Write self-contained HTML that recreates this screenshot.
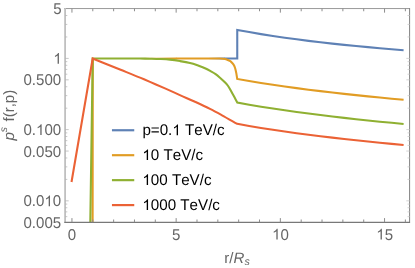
<!DOCTYPE html>
<html><head><meta charset="utf-8"><title>plot</title>
<style>
html,body{margin:0;padding:0;background:#fff;}
body{width:415px;height:268px;overflow:hidden;position:relative;font-family:"Liberation Sans",sans-serif;}
</style></head><body>
<svg width="415" height="268" viewBox="0 0 415 268" style="position:absolute;left:0;top:0;text-rendering:geometricPrecision">
<defs><clipPath id="c"><rect x="65.10" y="8.55" width="344.60" height="213.65"/></clipPath></defs>
<g clip-path="url(#c)" fill="none" stroke-width="2.08" stroke-linejoin="miter" stroke-linecap="butt" style="filter:blur(0.45px)">
<path d="M208 58.10 L224.3 57.51 V59.59 L208 59.00 Z" fill="#5e81b5" stroke="none"/>
<path d="M224.00 58.55 L237.25 58.55 L237.25 29.90 L249.13 32.10 L261.01 34.13 L272.90 36.00 L284.78 37.73 L296.66 39.34 L308.54 40.85 L320.43 42.27 L332.31 43.60 L344.19 44.85 L356.07 46.04 L367.95 47.16 L379.84 48.22 L391.72 49.24 L403.60 50.20" stroke="#5e81b5"/>
<path d="M138 58.05 L176.3 57.51 V59.59 L138 59.05 Z" fill="#e19c24" stroke="none"/>
<path d="M92.60 230.00 L92.80 59.55 M176.00 58.55 L215.00 58.55 C216.33 58.55 217.67 58.52 219.00 58.55 C220.33 58.58 221.67 58.58 223.00 58.75 C224.23 58.91 225.47 59.09 226.70 59.50 C227.97 59.93 229.23 60.27 230.50 61.30 C231.33 61.98 232.17 62.64 233.00 63.90 C233.67 64.91 234.33 65.51 235.00 67.70 C235.42 69.07 235.83 70.66 236.25 72.90 C236.57 74.61 236.88 76.90 237.20 78.90 L237.20 78.90 L249.09 80.98 L260.97 82.93 L272.86 84.76 L284.74 86.48 L296.63 88.11 L308.51 89.66 L320.40 91.13 L332.29 92.53 L344.17 93.87 L356.06 95.15 L367.94 96.38 L379.83 97.57 L391.71 98.70 L403.60 99.80" stroke="#e19c24"/>
<path d="M90.20 230.00 L92.70 58.55 L140.00 58.55 C143.33 58.60 146.67 58.62 150.00 58.70 C153.33 58.78 156.67 58.84 160.00 59.00 C163.33 59.16 166.67 59.30 170.00 59.65 C173.33 60.00 176.67 60.52 180.00 61.10 C183.33 61.68 186.67 62.26 190.00 63.10 C192.00 63.60 194.00 64.15 196.00 64.80 C197.33 65.23 198.67 65.69 200.00 66.20 C201.67 66.84 203.33 67.52 205.00 68.30 C206.87 69.17 208.73 70.15 210.60 71.20 C212.27 72.14 213.93 73.01 215.60 74.20 C217.07 75.25 218.53 76.53 220.00 77.80 C221.53 79.13 223.07 80.40 224.60 82.00 C225.77 83.22 226.93 84.32 228.10 86.00 C228.80 87.01 229.50 88.18 230.20 89.40 C230.83 90.50 231.47 91.73 232.10 92.90 C232.77 94.13 233.43 95.37 234.10 96.60 C234.75 97.80 235.40 98.97 236.05 100.20 C236.47 100.99 236.88 101.80 237.30 102.60 L237.30 102.60 L249.18 104.72 L261.06 106.71 L272.94 108.58 L284.81 110.34 L296.69 112.01 L308.57 113.59 L320.45 115.09 L332.33 116.52 L344.21 117.89 L356.09 119.20 L367.96 120.46 L379.84 121.67 L391.72 122.83 L403.60 123.95" stroke="#8fb032"/>
<path d="M71.52 182.05 L92.70 58.55 C101.80 62.20 110.90 65.81 120.00 69.50 C128.00 72.74 136.00 75.87 144.00 79.30 C146.00 80.16 148.00 81.03 150.00 81.90 C155.00 84.07 160.00 86.19 165.00 88.40 C170.33 90.75 175.67 93.22 181.00 95.60 C185.67 97.68 190.33 99.66 195.00 101.80 C200.00 104.09 205.00 106.37 210.00 108.90 C214.00 110.93 218.00 113.12 222.00 115.30 C227.08 118.07 232.17 121.00 237.25 123.85 L237.25 123.85 L249.13 125.95 L261.01 127.92 L272.90 129.77 L284.78 131.51 L296.66 133.16 L308.54 134.72 L320.43 136.20 L332.31 137.62 L344.19 138.98 L356.07 140.27 L367.95 141.52 L379.84 142.71 L391.72 143.86 L403.60 144.97" stroke="#eb6235"/>
</g>
<g fill="none">
<path d="M64.10 8.55 H409.90" stroke="#9a9a9a" stroke-width="1.0"/>
<path d="M409.60 8.05 V222.20" stroke="#828282" stroke-width="1.0"/>
<path d="M65.10 8.05 V222.80" stroke="#c0c0c0" stroke-width="1.8"/>
<path d="M64.30 222.35 H410.10" stroke="#787878" stroke-width="1.05"/>
</g>
<path d="M71.95 222.20 v-4.10 M71.95 8.55 v4.10 M92.79 222.20 v-2.70 M92.79 8.55 v2.70 M113.63 222.20 v-2.70 M113.63 8.55 v2.70 M134.47 222.20 v-2.70 M134.47 8.55 v2.70 M155.31 222.20 v-2.70 M155.31 8.55 v2.70 M176.15 222.20 v-4.10 M176.15 8.55 v4.10 M196.99 222.20 v-2.70 M196.99 8.55 v2.70 M217.83 222.20 v-2.70 M217.83 8.55 v2.70 M238.67 222.20 v-2.70 M238.67 8.55 v2.70 M259.51 222.20 v-2.70 M259.51 8.55 v2.70 M280.35 222.20 v-4.10 M280.35 8.55 v4.10 M301.19 222.20 v-2.70 M301.19 8.55 v2.70 M322.03 222.20 v-2.70 M322.03 8.55 v2.70 M342.87 222.20 v-2.70 M342.87 8.55 v2.70 M363.71 222.20 v-2.70 M363.71 8.55 v2.70 M384.55 222.20 v-4.10 M384.55 8.55 v4.10 M405.39 222.20 v-2.70 M405.39 8.55 v2.70" stroke="#8c8c8c" stroke-width="1" fill="none"/>
<path d="M65.10 58.40 h3.6 M65.10 79.84 h3.6 M65.10 129.62 h3.6 M65.10 151.06 h3.6 M65.10 200.84 h3.6 M65.10 15.52 h2.2 M65.10 24.42 h2.2 M65.10 36.96 h2.2 M65.10 61.66 h2.2 M65.10 65.30 h2.2 M65.10 69.43 h2.2 M65.10 74.20 h2.2 M65.10 86.74 h2.2 M65.10 95.64 h2.2 M65.10 108.18 h2.2 M65.10 132.88 h2.2 M65.10 136.52 h2.2 M65.10 140.65 h2.2 M65.10 145.42 h2.2 M65.10 157.96 h2.2 M65.10 166.86 h2.2 M65.10 179.40 h2.2 M65.10 204.10 h2.2 M65.10 207.74 h2.2 M65.10 211.87 h2.2 M65.10 216.64 h2.2" stroke="#b4b4b4" stroke-width="0.75" fill="none"/>
<path d="M409.70 58.40 h-3.4 M409.70 79.84 h-3.4 M409.70 129.62 h-3.4 M409.70 151.06 h-3.4 M409.70 200.84 h-3.4 M409.70 15.52 h-2.2 M409.70 24.42 h-2.2 M409.70 36.96 h-2.2 M409.70 61.66 h-2.2 M409.70 65.30 h-2.2 M409.70 69.43 h-2.2 M409.70 74.20 h-2.2 M409.70 86.74 h-2.2 M409.70 95.64 h-2.2 M409.70 108.18 h-2.2 M409.70 132.88 h-2.2 M409.70 136.52 h-2.2 M409.70 140.65 h-2.2 M409.70 145.42 h-2.2 M409.70 157.96 h-2.2 M409.70 166.86 h-2.2 M409.70 179.40 h-2.2 M409.70 204.10 h-2.2 M409.70 207.74 h-2.2 M409.70 211.87 h-2.2 M409.70 216.64 h-2.2" stroke="#c9c9c9" stroke-width="0.8" fill="none"/>
<g style="filter:blur(0.45px)">
<path d="M111.95 130.25 H134.25" stroke="#5e81b5" stroke-width="2.18" fill="none"/>
<path d="M111.95 155.20 H134.25" stroke="#e19c24" stroke-width="2.18" fill="none"/>
<path d="M111.95 180.15 H134.25" stroke="#8fb032" stroke-width="2.18" fill="none"/>
<path d="M111.95 205.10 H134.25" stroke="#eb6235" stroke-width="2.18" fill="none"/>
</g>
</svg>
<svg width="415" height="268" viewBox="0 0 415 268" style="position:absolute;left:0;top:0;text-rendering:geometricPrecision;font-kerning:none;filter:grayscale(1);will-change:transform">
<g font-family="Liberation Sans, sans-serif" font-size="15.06" fill="#666666">
<text transform="translate(53.32 14.07) scale(1 1.040)" font-size="15.06" xml:space="preserve">5</text>
<path transform="translate(53.32 63.85) scale(0.00735 -0.00765)" d="M763 0H583V1098Q518 1039 412 979Q307 920 223 890V1057Q374 1125 487 1221Q600 1318 647 1409H763Z"/>
<text transform="translate(23.46 85.29) scale(1 1.040)" font-size="15.06" xml:space="preserve">0.500</text>
<text transform="translate(23.46 135.07) scale(1 1.040)" font-size="15.06" xml:space="preserve">0.</text>
<path transform="translate(36.02 135.07) scale(0.00735 -0.00765)" d="M763 0H583V1098Q518 1039 412 979Q307 920 223 890V1057Q374 1125 487 1221Q600 1318 647 1409H763Z"/>
<text transform="translate(44.40 135.07) scale(1 1.040)" font-size="15.06" xml:space="preserve">00</text>
<text transform="translate(23.46 156.51) scale(1 1.040)" font-size="15.06" xml:space="preserve">0.050</text>
<text transform="translate(23.46 206.29) scale(1 1.040)" font-size="15.06" xml:space="preserve">0.0</text>
<path transform="translate(44.40 206.29) scale(0.00735 -0.00765)" d="M763 0H583V1098Q518 1039 412 979Q307 920 223 890V1057Q374 1125 487 1221Q600 1318 647 1409H763Z"/>
<text transform="translate(52.77 206.29) scale(1 1.040)" font-size="15.06" xml:space="preserve">0</text>
<text transform="translate(23.46 227.73) scale(1 1.040)" font-size="15.06" xml:space="preserve">0.005</text>
<text transform="translate(67.86 239.60) scale(1 1.040)" font-size="15.06" xml:space="preserve">0</text>
<text transform="translate(172.06 239.60) scale(1 1.040)" font-size="15.06" xml:space="preserve">5</text>
<path transform="translate(272.07 239.60) scale(0.00735 -0.00765)" d="M763 0H583V1098Q518 1039 412 979Q307 920 223 890V1057Q374 1125 487 1221Q600 1318 647 1409H763Z"/>
<text transform="translate(280.45 239.60) scale(1 1.040)" font-size="15.06" xml:space="preserve">0</text>
<path transform="translate(376.27 239.60) scale(0.00735 -0.00765)" d="M763 0H583V1098Q518 1039 412 979Q307 920 223 890V1057Q374 1125 487 1221Q600 1318 647 1409H763Z"/>
<text transform="translate(384.65 239.60) scale(1 1.040)" font-size="15.06" xml:space="preserve">5</text>
<text x="224.2" y="262.9">r/<tspan font-style="italic">R</tspan><tspan font-style="italic" font-size="10.7" dy="2.4" dx="0.25">s</tspan></text>
<text transform="translate(13.95 140.4) rotate(-90)"><tspan font-style="italic">p</tspan><tspan font-style="italic" font-size="10.4" dy="-6.7" dx="-0.3">s</tspan><tspan dy="6.7" dx="1.4"> f(r,p)</tspan></text>
</g>
<g font-family="Liberation Sans, sans-serif" font-size="15.17" fill="#000">
<text transform="translate(142.40 135.15) scale(1 1.025)" font-size="15.17" xml:space="preserve">p=0.</text>
<path transform="translate(172.35 135.15) scale(0.00741 -0.00759)" d="M763 0H583V1098Q518 1039 412 979Q307 920 223 890V1057Q374 1125 487 1221Q600 1318 647 1409H763Z"/>
<text transform="translate(180.78 135.15) scale(1 1.025)" font-size="15.17" xml:space="preserve"> TeV/c</text>
<path transform="translate(142.40 160.10) scale(0.00741 -0.00759)" d="M763 0H583V1098Q518 1039 412 979Q307 920 223 890V1057Q374 1125 487 1221Q600 1318 647 1409H763Z"/>
<text transform="translate(150.84 160.10) scale(1 1.025)" font-size="15.17" xml:space="preserve">0 TeV/c</text>
<path transform="translate(142.40 185.05) scale(0.00741 -0.00759)" d="M763 0H583V1098Q518 1039 412 979Q307 920 223 890V1057Q374 1125 487 1221Q600 1318 647 1409H763Z"/>
<text transform="translate(150.84 185.05) scale(1 1.025)" font-size="15.17" xml:space="preserve">00 TeV/c</text>
<path transform="translate(142.40 210.00) scale(0.00741 -0.00759)" d="M763 0H583V1098Q518 1039 412 979Q307 920 223 890V1057Q374 1125 487 1221Q600 1318 647 1409H763Z"/>
<text transform="translate(150.84 210.00) scale(1 1.025)" font-size="15.17" xml:space="preserve">000 TeV/c</text>
</g>
</svg>
</body></html>
